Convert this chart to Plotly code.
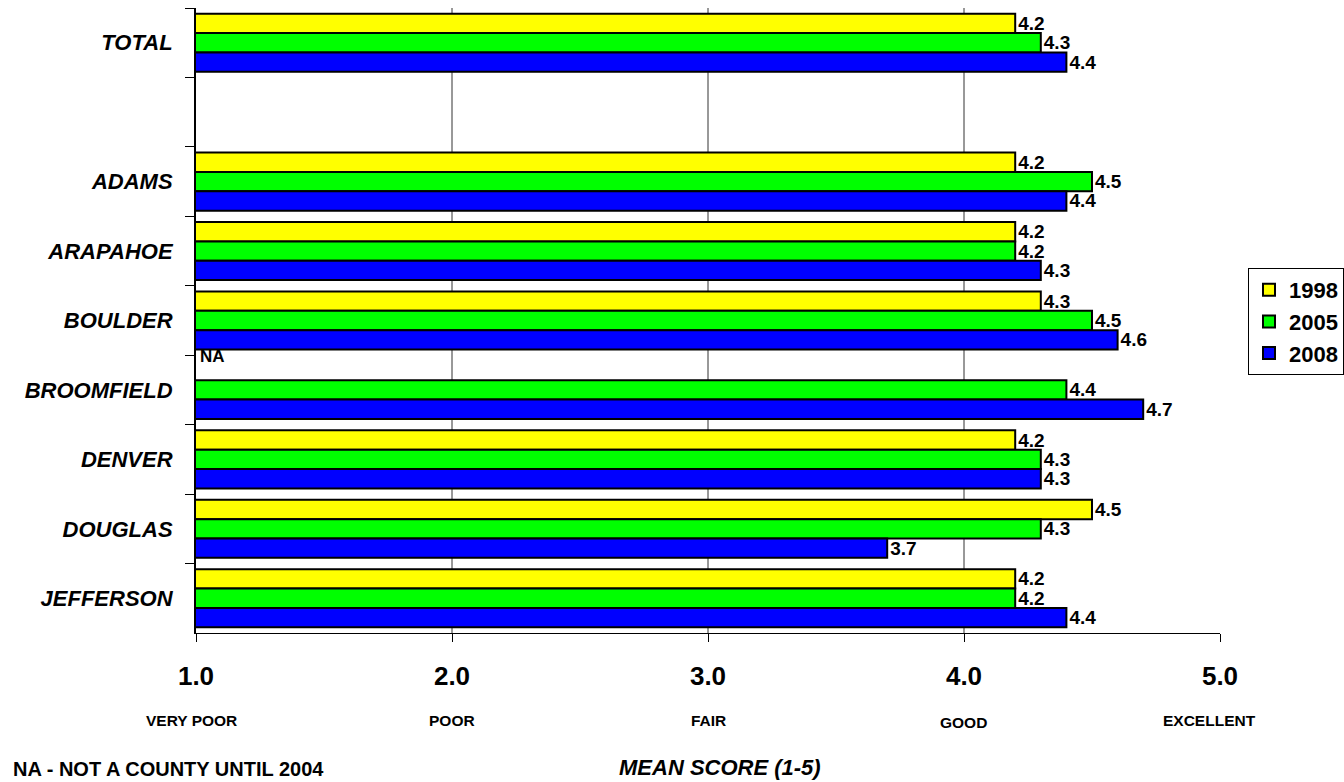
import plotly.graph_objects as go

categories = ["TOTAL", " ", "ADAMS", "ARAPAHOE", "BOULDER", "BROOMFIELD", "DENVER", "DOUGLAS", "JEFFERSON"]
y1998 = [4.2, None, 4.2, 4.2, 4.3, None, 4.2, 4.5, 4.2]
y2005 = [4.3, None, 4.5, 4.2, 4.5, 4.4, 4.3, 4.3, 4.2]
y2008 = [4.4, None, 4.4, 4.3, 4.6, 4.7, 4.3, 3.7, 4.4]
series_names = ["1998", "2005", "2008"]
colors = ["#FFFF00", "#00FF00", "#0000FF"]
tick_vals = [1, 2, 3, 4, 5]
tick_text = ["1.0", "2.0", "3.0", "4.0", "5.0"]
rating_words = ["VERY POOR", "POOR", "FAIR", "GOOD", "EXCELLENT"]
grid_vals = [2, 3, 4]

fig = go.Figure()
for name, vals, col in zip(series_names, [y1998, y2005, y2008], colors):
    fig.add_trace(go.Bar(
        y=categories, x=vals, name=name, orientation="h", legendgroup=name,
        marker=dict(color=col, line=dict(color="black", width=2)),
        text=[("%.1f" % v) if v is not None else "" for v in vals],
        textposition="outside", cliponaxis=False, constraintext="none",
        textfont=dict(family="Arial", size=19, color="black", weight="bold"),
    ))

for g in grid_vals:
    fig.add_shape(type="line", xref="x", yref="paper", x0=g, x1=g, y0=0, y1=1,
                  line=dict(color="#333333", width=1), layer="below")

# NA label for Broomfield 1998
fig.add_annotation(x=1, y="BROOMFIELD", xref="x", yref="y", text="<b>NA</b>",
                   showarrow=False, xanchor="left", yanchor="middle", yshift=33, xshift=2,
                   font=dict(family="Arial", size=17, color="black"))

word_px = [191, 452, 708, 963, 1209]
word_y = [720, 720, 720, 722, 720]
for w, xp, yp in zip(rating_words, word_px, word_y):
    fig.add_annotation(x=(xp - 196) / 1024, y=(633 - yp) / 625, xref="paper", yref="paper",
                       text="<b>%s</b>" % w,
                       showarrow=False, xanchor="center", yanchor="middle",
                       font=dict(family="Arial", size=15.5, color="black"))

fig.add_annotation(x=(720 - 196) / 1024, y=(633 - 767) / 625, xref="paper", yref="paper",
                   text="<b><i>MEAN SCORE (1-5)</i></b>", showarrow=False,
                   xanchor="center", yanchor="middle",
                   font=dict(family="Arial", size=22, color="black"))
fig.add_annotation(x=(11 - 196) / 1024, y=(633 - 769) / 625, xref="paper", yref="paper",
                   text="<b>NA - NOT A COUNTY UNTIL 2004</b>", showarrow=False,
                   xanchor="left", yanchor="middle",
                   font=dict(family="Arial", size=20, color="black"))

fig.update_layout(
    width=1344, height=782,
    margin=dict(l=196, r=124, t=8, b=149, autoexpand=False),
    paper_bgcolor="white", plot_bgcolor="white",
    barmode="group", bargap=0.164, bargroupgap=0,
    font=dict(family="Arial", color="black"),
    showlegend=True,
    legend=dict(x=(1248 - 196) / 1024, xanchor="left", y=(633 - 268) / 625, yanchor="top",
                bgcolor="white", bordercolor="black", borderwidth=1,
                traceorder="normal",
                font=dict(family="Arial", size=22, color="black", weight="bold"),
                itemwidth=30, tracegroupgap=8),
)
fig.update_yaxes(
    categoryorder="array", categoryarray=categories, autorange="reversed",
    showline=True, linecolor="black", linewidth=2,
    ticks="outside", tickson="boundaries", ticklen=9, tickcolor="black", tickwidth=1,
    showgrid=False,
    tickfont=dict(family="Arial", size=22, color="black", weight="bold", style="italic"),
    ticklabelstandoff=17,
)
fig.update_xaxes(
    range=[1, 5], tickvals=tick_vals, ticktext=tick_text,
    showline=True, linecolor="black", linewidth=1,
    ticks="outside", ticklen=8, tickcolor="black",
    showgrid=False, zeroline=False,
    tickfont=dict(family="Arial", size=26, color="black", weight="bold"),
    ticklabelstandoff=12,
)

fig.write_html("out.html")
